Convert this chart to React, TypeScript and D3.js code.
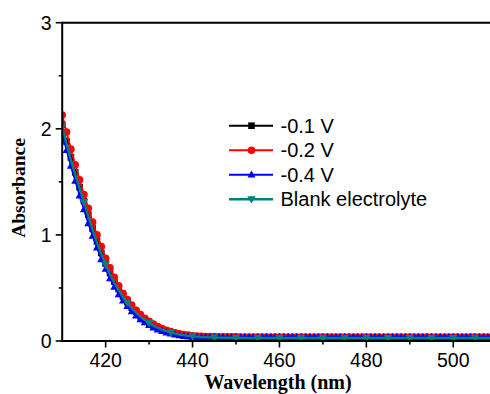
import React from "react";
import * as d3 from "d3";

const wavelengths: number[] = d3.range(410, 511, 1);

const seriesBlack: number[] = [
  2.04, 1.88, 1.73, 1.59, 1.45, 1.32, 1.19, 1.06, 0.94, 0.83,
  0.73, 0.64, 0.56, 0.49, 0.42, 0.365, 0.315, 0.275, 0.235, 0.20,
  0.172, 0.147, 0.126, 0.108, 0.093, 0.080, 0.070, 0.061, 0.054, 0.048,
  0.044, 0.041, 0.039, 0.037, 0.036, 0.035, 0.034, 0.034, 0.033, 0.033,
  0.033, 0.032, 0.032, 0.032, 0.032, 0.031, 0.031, 0.031, 0.031, 0.031,
  0.031, 0.031, 0.030, 0.030, 0.030, 0.030, 0.030, 0.030, 0.030, 0.030,
  0.030, 0.030, 0.030, 0.030, 0.030, 0.030, 0.030, 0.030, 0.030, 0.030,
  0.030, 0.030, 0.030, 0.030, 0.030, 0.030, 0.030, 0.030, 0.030, 0.030,
  0.030, 0.030, 0.030, 0.030, 0.030, 0.030, 0.030, 0.030, 0.030, 0.030,
  0.030, 0.030, 0.030, 0.030, 0.030, 0.030, 0.030, 0.030, 0.030, 0.030,
  0.030,
];

const seriesRed: number[] = [
  2.13, 1.97, 1.81, 1.66, 1.52, 1.38, 1.25, 1.12, 1.00, 0.89,
  0.78, 0.69, 0.60, 0.52, 0.45, 0.39, 0.34, 0.29, 0.25, 0.215,
  0.185, 0.16, 0.137, 0.118, 0.102, 0.089, 0.078, 0.069, 0.061, 0.055,
  0.050, 0.047, 0.045, 0.043, 0.042, 0.041, 0.040, 0.040, 0.039, 0.039,
  0.039, 0.038, 0.038, 0.038, 0.038, 0.038, 0.038, 0.037, 0.037, 0.037,
  0.037, 0.037, 0.037, 0.037, 0.037, 0.037, 0.037, 0.037, 0.037, 0.037,
  0.037, 0.037, 0.037, 0.037, 0.037, 0.037, 0.037, 0.037, 0.037, 0.037,
  0.037, 0.037, 0.037, 0.037, 0.037, 0.037, 0.037, 0.037, 0.037, 0.037,
  0.037, 0.037, 0.037, 0.037, 0.037, 0.037, 0.037, 0.037, 0.037, 0.037,
  0.037, 0.037, 0.037, 0.037, 0.037, 0.037, 0.037, 0.037, 0.037, 0.037,
  0.037,
];

const seriesBlue: number[] = [
  1.95, 1.80, 1.65, 1.51, 1.37, 1.24, 1.11, 0.99, 0.88, 0.77,
  0.68, 0.59, 0.51, 0.44, 0.38, 0.33, 0.28, 0.24, 0.205, 0.175,
  0.15, 0.127, 0.108, 0.093, 0.080, 0.069, 0.060, 0.053, 0.047, 0.043,
  0.040, 0.038, 0.037, 0.036, 0.036, 0.035, 0.035, 0.035, 0.035, 0.035,
  0.035, 0.035, 0.035, 0.035, 0.035, 0.035, 0.035, 0.035, 0.035, 0.035,
  0.035, 0.035, 0.035, 0.035, 0.035, 0.035, 0.035, 0.035, 0.035, 0.035,
  0.035, 0.035, 0.035, 0.035, 0.035, 0.035, 0.035, 0.035, 0.035, 0.035,
  0.035, 0.035, 0.035, 0.035, 0.035, 0.035, 0.035, 0.035, 0.035, 0.035,
  0.035, 0.035, 0.035, 0.035, 0.035, 0.035, 0.035, 0.035, 0.035, 0.035,
  0.035, 0.035, 0.035, 0.035, 0.035, 0.035, 0.035, 0.035, 0.035, 0.035,
  0.035,
];

const seriesTeal: number[] = [
  2.02, 1.86, 1.71, 1.57, 1.44, 1.31, 1.18, 1.05, 0.93, 0.82,
  0.72, 0.63, 0.55, 0.48, 0.415, 0.36, 0.31, 0.27, 0.23, 0.20,
  0.17, 0.145, 0.125, 0.108, 0.093, 0.080, 0.070, 0.061, 0.054, 0.048,
  0.044, 0.041, 0.038, 0.036, 0.034, 0.033, 0.032, 0.031, 0.030, 0.030,
  0.029, 0.029, 0.029, 0.028, 0.028, 0.028, 0.028, 0.028, 0.028, 0.028,
  0.028, 0.028, 0.028, 0.028, 0.028, 0.028, 0.028, 0.028, 0.028, 0.028,
  0.028, 0.028, 0.028, 0.028, 0.028, 0.028, 0.028, 0.028, 0.028, 0.028,
  0.028, 0.028, 0.028, 0.028, 0.028, 0.028, 0.028, 0.028, 0.028, 0.028,
  0.028, 0.028, 0.028, 0.028, 0.028, 0.028, 0.028, 0.028, 0.028, 0.028,
  0.028, 0.028, 0.028, 0.028, 0.028, 0.028, 0.028, 0.028, 0.028, 0.028,
  0.028,
];

const seriesLabels = ["-0.1 V", "-0.2 V", "-0.4 V", "Blank electrolyte"];
const xTicks = [420, 440, 460, 480, 500];
const xMinorTicks = [430, 450, 470, 490, 510];
const yTicks = [0, 1, 2, 3];
const yMinorTicks = [0.5, 1.5, 2.5];

type Sym = "square" | "circle" | "triangle" | "down";

const seriesDefs: { values: number[]; color: string; sym: Sym; every: number }[] = [
  { values: seriesBlack, color: "#000000", sym: "square", every: 1 },
  { values: seriesRed, color: "#ff0000", sym: "circle", every: 1 },
  { values: seriesBlue, color: "#0000ff", sym: "triangle", every: 1 },
  { values: seriesTeal, color: "#008080", sym: "down", every: 5 },
];

function Marker({ sym, x, y, color }: { sym: Sym; x: number; y: number; color: string }) {
  if (sym === "square") return <rect x={x - 3.3} y={y - 3.3} width={6.6} height={6.6} fill={color} />;
  if (sym === "circle") return <circle cx={x} cy={y} r={3.8} fill={color} />;
  if (sym === "triangle")
    return <path d={`M${x},${y - 4.3}L${x + 4},${y + 2.9}L${x - 4},${y + 2.9}Z`} fill={color} />;
  return <path d={`M${x},${y + 4.3}L${x + 4.3},${y - 3}L${x - 4.3},${y - 3}Z`} fill={color} />;
}

export default function App() {
  const W = 490;
  const H = 394;
  const left = 62.2;
  const top = 22.7;
  const bottom = 341;
  const x = d3.scaleLinear().domain([410, 510]).range([left, left + 434.5]);
  const y = d3.scaleLinear().domain([0, 3]).range([bottom, top]);
  const line = d3
    .line<number>()
    .x((_, i) => x(wavelengths[i]))
    .y((d) => y(d));
  const right = x(510);
  const tickFont = "Arial, 'Liberation Sans', sans-serif";
  const titleFont = "'Times New Roman', 'Liberation Serif', serif";

  return (
    <svg
      width={W}
      height={H}
      style={{ position: "absolute", left: 0, top: 0, background: "#fff" }}
    >
      <defs>
        <clipPath id="plotclip">
          <rect x={left} y={top - 5} width={right - left} height={bottom - top + 5} />
        </clipPath>
      </defs>
      <g clipPath="url(#plotclip)">
        {seriesDefs.map((s, si) => (
          <g key={si}>
            <path d={line(s.values) || ""} fill="none" stroke={s.color} strokeWidth={si === 3 ? 2.4 : 1.8} />
            {s.values.map((v, i) =>
              i % s.every === 0 ? (
                <Marker key={i} sym={s.sym} x={x(wavelengths[i])} y={y(v)} color={s.color} />
              ) : null
            )}
          </g>
        ))}
      </g>
      {/* axes frame */}
      <line x1={left} y1={top} x2={W} y2={top} stroke="#000" strokeWidth={2} />
      <line x1={left} y1={top - 1} x2={left} y2={bottom + 1} stroke="#000" strokeWidth={2} />
      <line x1={left - 1} y1={bottom} x2={W} y2={bottom} stroke="#000" strokeWidth={2} />
      {/* y ticks */}
      {yTicks.map((t) => (
        <g key={t}>
          <line x1={left - 6.5} x2={left} y1={y(t)} y2={y(t)} stroke="#000" strokeWidth={1.6} />
          <text
            x={left - 10.5}
            y={y(t) + 7}
            textAnchor="end"
            fontFamily={tickFont}
            fontSize={19.5}
            fill="#000"
          >
            {t}
          </text>
        </g>
      ))}
      {yMinorTicks.map((t) => (
        <line key={t} x1={left - 3.5} x2={left} y1={y(t)} y2={y(t)} stroke="#000" strokeWidth={1.6} />
      ))}
      {/* x ticks */}
      {xTicks.map((t) => (
        <g key={t}>
          <line x1={x(t)} x2={x(t)} y1={bottom} y2={bottom + 6.5} stroke="#000" strokeWidth={1.6} />
          <text x={x(t)} y={bottom + 26} textAnchor="middle" fontFamily={tickFont} fontSize={19.5} fill="#000">
            {t}
          </text>
        </g>
      ))}
      {xMinorTicks.map((t) => (
        <line key={t} x1={x(t)} x2={x(t)} y1={bottom} y2={bottom + 3.5} stroke="#000" strokeWidth={1.6} />
      ))}
      {/* titles */}
      <text
        x={278}
        y={389}
        textAnchor="middle"
        fontFamily={titleFont}
        fontWeight="bold"
        fontSize={20}
        fill="#000"
      >
        Wavelength (nm)
      </text>
      <text
        transform={`translate(24.5,188) rotate(-90)`}
        textAnchor="middle"
        fontFamily={titleFont}
        fontWeight="bold"
        fontSize={19.5}
        fill="#000"
      >
        Absorbance
      </text>
      {/* legend */}
      {seriesDefs.map((s, i) => {
        const ly = 125.7 + i * 24.5;
        return (
          <g key={i}>
            <line x1={229} x2={273} y1={ly} y2={ly} stroke={s.color} strokeWidth={i === 3 ? 2.4 : 2} />
            <Marker sym={s.sym} x={251.5} y={ly} color={s.color} />
            <text x={280.5} y={ly + 7} fontFamily={tickFont} fontSize={20} fill="#000">
              {seriesLabels[i]}
            </text>
          </g>
        );
      })}
    </svg>
  );
}
